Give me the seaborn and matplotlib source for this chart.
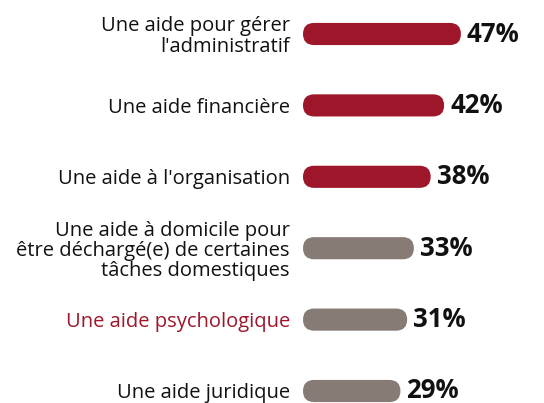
import matplotlib
matplotlib.use("Agg")
import matplotlib.pyplot as plt
import seaborn as sns
import pandas as pd
from matplotlib.patches import FancyBboxPatch

categories = [
    "Une aide pour gérer\nl'administratif",
    "Une aide financière",
    "Une aide à l'organisation",
    "Une aide à domicile pour\nêtre déchargé(e) de certaines\ntâches domestiques",
    "Une aide psychologique",
    "Une aide juridique",
]
values = [47, 42, 38, 33, 31, 29]
value_labels = ["47%", "42%", "38%", "33%", "31%", "29%"]

RED = "#9E1629"
GREY = "#877B76"
bar_colors = [RED, RED, RED, GREY, GREY, GREY]
label_colors = ["#111111", "#111111", "#111111", "#111111", RED, "#111111"]

sns.set_theme(style="white")
plt.rcParams['font.family'] = ['Open Sans', 'DejaVu Sans']

W, H = 544, 403
fig = plt.figure(figsize=(W / 100, H / 100), dpi=100)
left_px = 303
ax = fig.add_axes([left_px / W, 0, 1 - left_px / W, 1])

df = pd.DataFrame({"cat": categories, "val": values})
sns.barplot(data=df, x="val", y="cat", hue="cat", palette=bar_colors,
            legend=False, orient="h", width=0.31, ax=ax, saturation=1)

px_per_unit_x = 3.36
ax.set_xlim(0, (W - left_px) / px_per_unit_x)
ax.set_ylim(5 + 12 / 71.4, -34 / 71.4)

# rounded bars
fig.canvas.draw()
inv = ax.transData
p0 = inv.transform((0, 0))
p1 = inv.transform((1, 1))
sx = abs(p1[0] - p0[0])
sy = abs(p1[1] - p0[1])
for patch, c in zip(list(ax.patches), bar_colors):
    x0, y0 = patch.get_x(), patch.get_y()
    w, h = patch.get_width(), patch.get_height()
    patch.remove()
    h_px = h * sy
    r = (h_px / 2) / sx
    fb = FancyBboxPatch((x0, y0), w, h,
                        boxstyle=f"round,pad=0,rounding_size={r}",
                        mutation_aspect=sx / sy,
                        facecolor=c, edgecolor="none")
    ax.add_patch(fb)

for i, (v, lab) in enumerate(zip(values, value_labels)):
    ax.annotate(lab, xy=(v, i), xytext=(6, 0), textcoords="offset pixels",
                ha="left", va="center", fontsize=18.5, fontweight="bold",
                color="#111111")

ax.set_xlabel("")
ax.set_ylabel("")
ax.set_xticks([])
ax.tick_params(axis="y", length=0, pad=9.4, labelsize=14.5)
for t, c in zip(ax.get_yticklabels(), label_colors):
    t.set_color(c)
    t.set_multialignment("right")
    t.set_linespacing(1.0)
for s in ax.spines.values():
    s.set_visible(False)

fig.savefig("out.png", dpi=100)
